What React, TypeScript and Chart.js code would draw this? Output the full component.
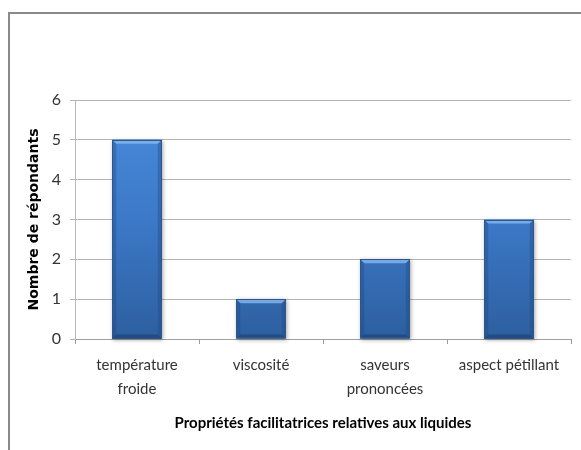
import React, { useEffect, useRef } from "react";
import { Chart, registerables } from "chart.js";

Chart.register(...registerables);

const categories: string[][] = [
  ["température", "froide"],
  ["viscosité"],
  ["saveurs", "prononcées"],
  ["aspect pétillant"],
];
const values: number[] = [5, 1, 2, 3];
const yMin = 0;
const yMax = 6;
const yStep = 1;
const yTitle = "Nombre de répondants";
const xTitle = "Propriétés facilitatrices relatives aux liquides";

const FONT = "Lato, 'Open Sans', sans-serif";

const framePlugin = {
  id: "frame",
  beforeDraw(chart: any) {
    const ctx = chart.ctx;
    ctx.save();
    ctx.fillStyle = "#ffffff";
    ctx.fillRect(0, 0, chart.width, chart.height);
    ctx.fillStyle = "#8a8a8a";
    ctx.fillRect(8, 12, chart.width - 8, 2);
    ctx.fillRect(8, 12, 2, chart.height - 12);
    ctx.restore();
  },
};

const bevelPlugin = {
  id: "bevel",
  beforeDatasetsDraw(chart: any) {
    const ctx = chart.ctx;
    const meta = chart.getDatasetMeta(0);
    ctx.save();
    meta.data.forEach((bar: any) => {
      const { x, y, base, width } = bar.getProps(["x", "y", "base", "width"], true);
      const l = x - width / 2;
      ctx.shadowColor = "rgba(0,0,0,0.35)";
      ctx.shadowBlur = 4;
      ctx.shadowOffsetX = 1;
      ctx.shadowOffsetY = 1;
      ctx.fillStyle = "#2f5f9c";
      ctx.fillRect(l, y, width, base - y);
    });
    ctx.restore();
  },
  afterDatasetsDraw(chart: any) {
    const ctx = chart.ctx;
    const meta = chart.getDatasetMeta(0);
    ctx.save();
    meta.data.forEach((bar: any) => {
      const { x, y, base, width } = bar.getProps(["x", "y", "base", "width"], true);
      const l = x - width / 2;
      const r = x + width / 2;
      const b = 4;
      ctx.fillStyle = "rgba(140,190,245,0.75)";
      ctx.beginPath();
      ctx.moveTo(l, y);
      ctx.lineTo(r, y);
      ctx.lineTo(r - b, y + b);
      ctx.lineTo(l + b, y + b);
      ctx.closePath();
      ctx.fill();
      ctx.fillStyle = "rgba(30,70,130,0.35)";
      ctx.beginPath();
      ctx.moveTo(l, y);
      ctx.lineTo(l + b, y + b);
      ctx.lineTo(l + b, base - b);
      ctx.lineTo(l, base);
      ctx.closePath();
      ctx.fill();
      ctx.beginPath();
      ctx.moveTo(r, y);
      ctx.lineTo(r - b, y + b);
      ctx.lineTo(r - b, base - b);
      ctx.lineTo(r, base);
      ctx.closePath();
      ctx.fill();
      ctx.fillStyle = "rgba(20,50,100,0.45)";
      ctx.beginPath();
      ctx.moveTo(l, base);
      ctx.lineTo(l + b, base - b);
      ctx.lineTo(r - b, base - b);
      ctx.lineTo(r, base);
      ctx.closePath();
      ctx.fill();
      ctx.strokeStyle = "#2c5788";
      ctx.lineWidth = 1;
      ctx.strokeRect(Math.round(l) + 0.5, Math.round(y) + 0.5, Math.round(width) - 1, Math.round(base - y) - 1);
    });
    ctx.restore();
  },
};

export default function App() {
  const ref = useRef<HTMLCanvasElement>(null);
  useEffect(() => {
    if (!ref.current) return;
    const chart = new Chart(ref.current, {
      type: "bar",
      data: {
        labels: categories,
        datasets: [
          {
            data: values,
            backgroundColor: (c: any) => {
              const area = c.chart.chartArea;
              if (!area) return "#3b78c6";
              const g = c.chart.ctx.createLinearGradient(0, area.top, 0, area.bottom);
              g.addColorStop(0, "#4a8cdc");
              g.addColorStop(0.5, "#3c79c8");
              g.addColorStop(1, "#2d5f9f");
              return g;
            },
            borderWidth: 0,
            barPercentage: 0.4,
            categoryPercentage: 1,
          },
        ],
      },
      options: {
        responsive: false,
        animation: false,
        layout: { padding: { top: 100, right: 10, bottom: 0, left: 0 } },
        plugins: {
          legend: { display: false },
          tooltip: { enabled: false },
        },
        scales: {
          x: {
            afterFit: (s: any) => {
              s.height = 111;
            },
            grid: {
              drawOnChartArea: false,
              drawTicks: true,
              tickLength: 5,
              color: "#9a9a9a",
            },
            border: { color: "#a0a0a0" },
            ticks: {
              padding: 9,
              color: "#333333",
              font: { family: FONT, size: 15, lineHeight: 1.6 },
              maxRotation: 0,
              autoSkip: false,
            },
            title: {
              display: true,
              text: xTitle,
              color: "#000000",
              font: { family: FONT, size: 15, weight: "bold" },
              padding: { top: 0, bottom: 18 },
            },
          },
          y: {
            min: yMin,
            max: yMax,
            afterFit: (s: any) => {
              s.width = 75;
            },
            grid: {
              color: "#b4b4b4",
              tickLength: 5,
            },
            border: { color: "#b8b8b8" },
            ticks: {
              stepSize: yStep,
              padding: 9,
              color: "#333333",
              font: { family: FONT, size: 16 },
            },
            title: {
              display: true,
              text: yTitle,
              color: "#000000",
              font: { family: "'DejaVu Sans', sans-serif", size: 14, weight: "bold" },
              padding: { top: 26, bottom: 0 },
            },
          },
        },
      },
      plugins: [framePlugin, bevelPlugin],
    });
    return () => chart.destroy();
  }, []);
  return (
    <div style={{ position: "fixed", left: 0, top: 0, width: 581, height: 450 }}>
      <canvas ref={ref} width={581} height={450} />
    </div>
  );
}
